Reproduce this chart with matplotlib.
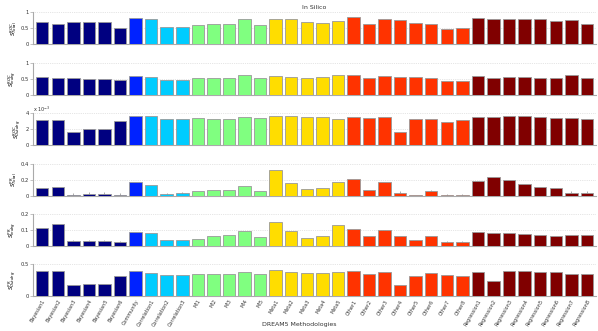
import matplotlib
matplotlib.use("Agg")
import matplotlib.pyplot as plt
import numpy as np

groups = [("Bayesian", 6), ("Community", 1), ("Correlation", 3), ("MI", 5),
          ("Meta", 5), ("Other", 8), ("Regression", 8)]
group_colors = ["#000080", "#0022ff", "#00ccff", "#80ff80", "#ffdd00", "#ff3300", "#800000"]

names = []
colors = []
for (g, n), c in zip(groups, group_colors):
    if n == 1:
        names.append(g)
        colors.append(c)
    else:
        for k in range(n):
            names.append(f"{g}{k + 1}")
            colors.append(c)

roc_total = [0.69, 0.625, 0.69, 0.68, 0.68, 0.51,
             0.82,
             0.78, 0.52, 0.52,
             0.59, 0.625, 0.625, 0.78, 0.59,
             0.78, 0.78, 0.69, 0.67, 0.72,
             0.83, 0.625, 0.79, 0.75, 0.66, 0.625, 0.48, 0.51,
             0.80, 0.77, 0.77, 0.77, 0.77, 0.72, 0.75, 0.625]
roc_2 = [0.55, 0.53, 0.52, 0.51, 0.51, 0.46,
         0.58,
         0.56, 0.48, 0.48,
         0.52, 0.53, 0.53, 0.62, 0.52,
         0.59, 0.57, 0.52, 0.55, 0.62,
         0.61, 0.54, 0.60, 0.57, 0.57, 0.53, 0.44, 0.44,
         0.58, 0.53, 0.56, 0.55, 0.54, 0.54, 0.61, 0.53]
roc_3 = [3.14, 3.14, 1.67, 1.96, 1.96, 3.02,
         3.63,
         3.55, 3.27, 3.27,
         3.35, 3.27, 3.22, 3.47, 3.39,
         3.55, 3.55, 3.51, 3.51, 3.22,
         3.51, 3.31, 3.43, 1.59, 3.22, 3.27, 2.82, 3.06,
         3.51, 3.51, 3.55, 3.67, 3.51, 3.39, 3.31, 3.18]
pr_total = [0.100, 0.113, 0.016, 0.028, 0.028, 0.012,
            0.180,
            0.137, 0.020, 0.032,
            0.057, 0.069, 0.069, 0.129, 0.057,
            0.323, 0.166, 0.089, 0.097, 0.178,
            0.206, 0.069, 0.170, 0.036, 0.012, 0.057, 0.008, 0.008,
            0.186, 0.242, 0.194, 0.154, 0.117, 0.105, 0.040, 0.040]
pr_total_err = [0, 0, 0.02, 0.02, 0.02, 0.02,
                0,
                0, 0.02, 0.02,
                0, 0, 0, 0, 0.01,
                0, 0, 0, 0, 0,
                0, 0, 0, 0.02, 0, 0.02, 0.02, 0.02,
                0, 0, 0, 0, 0, 0, 0.02, 0.02]
pr_2 = [0.111, 0.135, 0.028, 0.032, 0.032, 0.024,
        0.085,
        0.081, 0.034, 0.036,
        0.046, 0.059, 0.067, 0.091, 0.053,
        0.152, 0.091, 0.048, 0.059, 0.129,
        0.107, 0.059, 0.099, 0.059, 0.038, 0.063, 0.024, 0.024,
        0.089, 0.079, 0.083, 0.075, 0.065, 0.063, 0.069, 0.065]
pr_2_err = [0, 0, 0.006, 0.004, 0.004, 0.006,
            0, 0, 0, 0,
            0, 0, 0, 0, 0,
            0, 0, 0, 0, 0,
            0, 0, 0, 0, 0, 0, 0.008, 0.008,
            0, 0, 0, 0, 0, 0, 0, 0]
pr_3 = [0.393, 0.393, 0.163, 0.189, 0.189, 0.311,
        0.383,
        0.362, 0.327, 0.327,
        0.337, 0.337, 0.337, 0.367, 0.337,
        0.398, 0.367, 0.352, 0.352, 0.367,
        0.383, 0.342, 0.367, 0.168, 0.316, 0.352, 0.321, 0.306,
        0.378, 0.240, 0.383, 0.393, 0.378, 0.378, 0.342, 0.347]

panels = [
    (roc_total, None, r"$S^{ROC}_{Total}$", [0, 0.5, 1], ["0", "0.5", "1"], 1.0),
    (roc_2, None, r"$S^{ROC}_{Indeg}$", [0, 0.5, 1], ["0", "0.5", "1"], 1.0),
    (roc_3, None, r"$S^{ROC}_{Outdeg}$", [0, 2, 4], ["0", "2", "4"], 4.0),
    (pr_total, pr_total_err, r"$S^{PR}_{Total}$", [0, 0.2, 0.4], ["0", "0.2", "0.4"], 0.4),
    (pr_2, pr_2_err, r"$S^{PR}_{Indeg}$", [0, 0.1, 0.2], ["0", "0.1", "0.2"], 0.2),
    (pr_3, None, r"$S^{PR}_{Outdeg}$", [0, 0.5], ["0", "0.5"], 0.5),
]

fig = plt.figure(figsize=(5.98, 3.31), dpi=100)
bottoms = [0.867, 0.713, 0.562, 0.408, 0.257, 0.106]
x = np.arange(len(names))

for i, (vals, err, lab, yt, ytl, ytop) in enumerate(panels):
    ax = fig.add_axes([0.055, bottoms[i], 0.942, 0.097])
    ax.bar(x, vals, width=0.8, color=colors, edgecolor="#999999", linewidth=0.6, zorder=3)
    if err is not None:
        ax.errorbar(x, vals, yerr=[np.zeros(len(err)), err], fmt="none",
                    ecolor="#888888", elinewidth=0.5, capsize=0, zorder=4)
    ax.set_xlim(-0.6, len(names) - 0.4)
    ax.set_ylim(0, ytop)
    ax.set_yticks(yt)
    ax.set_yticklabels(ytl, fontsize=3.8, color="#333333")
    ax.set_ylabel(lab, fontsize=4, labelpad=1)
    for yy in yt[1:]:
        ax.axhline(yy, color="#cccccc", linestyle=":", linewidth=0.5, zorder=1)
    for s in ["top", "right"]:
        ax.spines[s].set_visible(False)
    for s in ["left", "bottom"]:
        ax.spines[s].set_color("#aaaaaa")
        ax.spines[s].set_linewidth(0.8)
    ax.tick_params(axis="y", length=2, width=0.5, color="#aaaaaa", pad=1)
    if i == 2:
        ax.text(0.0, 1.03, r"x 10$^{-3}$", transform=ax.transAxes, fontsize=3.5, color="#333333")
    if i == 0:
        ax.set_title("In Silico", fontsize=4.5, pad=2, color="#333333")
    if i == 5:
        ax.set_xticks(x)
        ax.set_xticklabels(names, rotation=60, ha="right", fontsize=3.5, color="#333333",
                           rotation_mode="anchor")
        ax.tick_params(axis="x", length=0, pad=2)
    else:
        ax.set_xticks([])

fig.text(0.5, 0.012, "DREAM5 Methodologies", ha="center", va="bottom", fontsize=4.5, color="#333333")
fig.savefig("out.png", dpi=100)
